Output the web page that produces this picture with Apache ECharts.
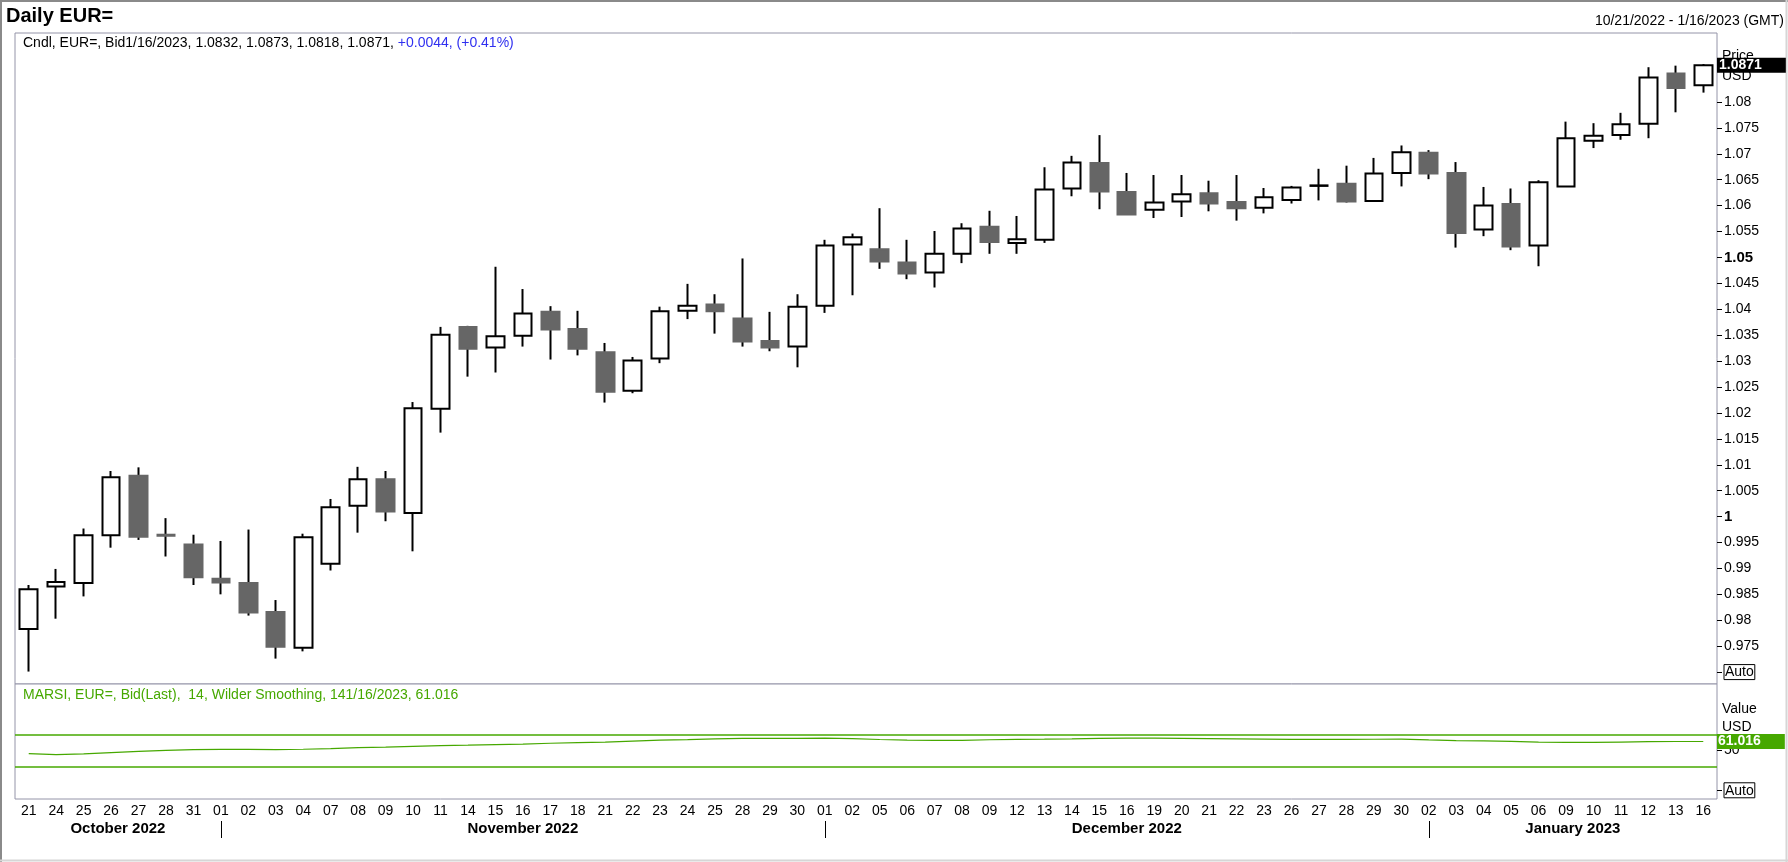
<!DOCTYPE html>
<html>
<head>
<meta charset="utf-8">
<script src="https://cdn.jsdelivr.net/npm/echarts@6/dist/echarts.min.js"></script>
<style>
  html, body { margin: 0; padding: 0; background: #fff; }
  #chart { width: 1788px; height: 862px; }
</style>
</head>
<body>
<div id="chart"></div>
<script>
// daily EUR= bid candles, 21 Oct 2022 - 16 Jan 2023
const dates = [
  '2022-10-21', '2022-10-24', '2022-10-25', '2022-10-26', '2022-10-27', '2022-10-28', '2022-10-31',
  '2022-11-01', '2022-11-02', '2022-11-03', '2022-11-04', '2022-11-07', '2022-11-08', '2022-11-09',
  '2022-11-10', '2022-11-11', '2022-11-14', '2022-11-15', '2022-11-16', '2022-11-17', '2022-11-18',
  '2022-11-21', '2022-11-22', '2022-11-23', '2022-11-24', '2022-11-25', '2022-11-28', '2022-11-29',
  '2022-11-30', '2022-12-01', '2022-12-02', '2022-12-05', '2022-12-06', '2022-12-07', '2022-12-08',
  '2022-12-09', '2022-12-12', '2022-12-13', '2022-12-14', '2022-12-15', '2022-12-16', '2022-12-19',
  '2022-12-20', '2022-12-21', '2022-12-22', '2022-12-23', '2022-12-26', '2022-12-27', '2022-12-28',
  '2022-12-29', '2022-12-30', '2023-01-02', '2023-01-03', '2023-01-04', '2023-01-05', '2023-01-06',
  '2023-01-09', '2023-01-10', '2023-01-11', '2023-01-12', '2023-01-13', '2023-01-16'
];
const opens = [
  0.9783, 0.9865, 0.9872, 0.9964, 1.0079, 0.9965, 0.9946,
  0.9880, 0.9872, 0.9816, 0.9747, 0.9909, 1.0021, 1.0072,
  1.0007, 1.0208, 1.0366, 1.0326, 1.0349, 1.0395, 1.0362,
  1.0317, 1.0243, 1.0305, 1.0397, 1.0409, 1.0382, 1.0339,
  1.0328, 1.0407, 1.0525, 1.0516, 1.0490, 1.0471, 1.0507,
  1.0559, 1.0528, 1.0534, 1.0633, 1.0682, 1.0626, 1.0592,
  1.0608, 1.0624, 1.0607, 1.0596, 1.0611, 1.0638, 1.0642,
  1.0609, 1.0663, 1.0702, 1.0663, 1.0554, 1.0603, 1.0523,
  1.0637, 1.0725, 1.0736, 1.0758, 1.0855, 1.0832
];
const highs = [
  0.9868, 0.9899, 0.9977, 1.0088, 1.0095, 0.9997, 0.9965,
  0.9953, 0.9975, 0.9839, 0.9967, 1.0034, 1.0096, 1.0088,
  1.0221, 1.0366, 1.0368, 1.0482, 1.0439, 1.0406, 1.0397,
  1.0335, 1.0308, 1.0405, 1.0449, 1.0429, 1.0498, 1.0395,
  1.0429, 1.0534, 1.0546, 1.0595, 1.0534, 1.0551, 1.0566,
  1.0590, 1.0580, 1.0674, 1.0696, 1.0736, 1.0663, 1.0659,
  1.0659, 1.0648, 1.0659, 1.0634, 1.0638, 1.0671, 1.0677,
  1.0692, 1.0716, 1.0707, 1.0684, 1.0636, 1.0633, 1.0649,
  1.0762, 1.0759, 1.0779, 1.0867, 1.0870, 1.0873
];
const lows = [
  0.9701, 0.9803, 0.9846, 0.9940, 0.9955, 0.9923, 0.9868,
  0.9850, 0.9809, 0.9726, 0.9740, 0.9896, 0.9969, 0.9991,
  0.9933, 1.0162, 1.0270, 1.0278, 1.0328, 1.0303, 1.0311,
  1.0220, 1.0238, 1.0296, 1.0381, 1.0353, 1.0328, 1.0319,
  1.0288, 1.0393, 1.0427, 1.0478, 1.0458, 1.0442, 1.0489,
  1.0507, 1.0507, 1.0528, 1.0618, 1.0593, 1.0583, 1.0576,
  1.0578, 1.0589, 1.0571, 1.0585, 1.0604, 1.0610, 1.0606,
  1.0609, 1.0637, 1.0651, 1.0519, 1.0541, 1.0514, 1.0483,
  1.0637, 1.0711, 1.0727, 1.0730, 1.0780, 1.0818
];
const closes = [
  0.9860, 0.9874, 0.9964, 1.0076, 0.9961, 0.9963, 0.9883,
  0.9873, 0.9815, 0.9749, 0.9960, 1.0018, 1.0072, 1.0010,
  1.0209, 1.0351, 1.0324, 1.0348, 1.0392, 1.0361, 1.0324,
  1.0241, 1.0301, 1.0396, 1.0407, 1.0396, 1.0338, 1.0326,
  1.0405, 1.0523, 1.0539, 1.0492, 1.0469, 1.0507, 1.0556,
  1.0530, 1.0535, 1.0631, 1.0683, 1.0627, 1.0583, 1.0606,
  1.0622, 1.0604, 1.0595, 1.0616, 1.0635, 1.0639, 1.0608,
  1.0662, 1.0703, 1.0662, 1.0547, 1.0600, 1.0521, 1.0645,
  1.0730, 1.0735, 1.0757, 1.0847, 1.0827, 1.0871
];
// MARSI, 14, Wilder smoothing
const rsiPeriod = 14;
const rsi = [
  45.8, 44.6, 45.5, 47.2, 48.6, 49.9, 50.9,
  51.2, 51.1, 50.9, 51.3, 52.1, 53.3, 54.0,
  55.0, 55.9, 56.4, 57.2, 57.8, 58.8, 59.6,
  60.2, 61.5, 62.8, 63.4, 64.4, 64.8, 65.0,
  65.0, 65.1, 64.6, 63.5, 62.6, 62.3, 62.5,
  63.2, 63.6, 63.9, 64.3, 65.0, 65.3, 65.2,
  65.0, 64.6, 64.2, 63.9, 63.7, 63.7, 63.6,
  63.8, 63.9, 63.0, 62.2, 61.8, 61.1, 60.2,
  59.9, 59.9, 60.3, 60.8, 61.0, 61.016
];
const rsiBands = [70, 30];
const priceTicks = [0.975, 0.98, 0.985, 0.99, 0.995, 1, 1.005, 1.01, 1.015, 1.02, 1.025, 1.03,
  1.035, 1.04, 1.045, 1.05, 1.055, 1.06, 1.065, 1.07, 1.075, 1.08];
const boldTicks = [1, 1.05];
const priceAutoTick = 0.97;
const rsiTicks = [0, 50];
const monthNames = ['January', 'February', 'March', 'April', 'May', 'June', 'July',
  'August', 'September', 'October', 'November', 'December'];

const FONT = 'Liberation Sans';
const FRAME = '#9494a8';
const GREEN = '#46a800';
const CLEAR = 'rgba(0,0,0,0)';
const PANE_LEFT = 15;
const PANE_WIDTH = 1702;
const n = dates.length;

const candleData = dates.map((d, i) => [opens[i], closes[i], lows[i], highs[i]]);
const bodyData = dates.map((d, i) => [opens[i], closes[i],
  Math.min(opens[i], closes[i]), Math.max(opens[i], closes[i])]);

// months: start index of each, label centred between the separators
const months = [];
dates.forEach((d, i) => {
  const key = d.slice(0, 7);
  if (!months.length || months[months.length - 1].key !== key) months.push({ key, idx: i });
});
const monthMid = months.map((m, k) => {
  const a = k === 0 ? -0.5 : m.idx;
  const b = k < months.length - 1 ? months[k + 1].idx : n - 0.5;
  return (a + b) / 2;
});
const monthText = {};
monthMid.forEach((p, k) => {
  const key = months[k].key;
  monthText[p] = monthNames[+key.slice(5, 7) - 1] + ' ' + key.slice(0, 4);
});
const monthSeps = months.slice(1).map(m => m.idx);

const last = n - 1;
const fmtDate = d => (+d.slice(5, 7)) + '/' + (+d.slice(8, 10)) + '/' + d.slice(0, 4);
const chg = closes[last] - closes[last - 1];
const chgPct = chg / closes[last - 1] * 100;
const sign = v => (v >= 0 ? '+' : '');
const candleLegend = '{k|Cndl, EUR=, Bid' + fmtDate(dates[last]) + ', ' +
  [opens[last], highs[last], lows[last], closes[last]].map(v => v.toFixed(4)).join(', ') + ', }' +
  '{u|' + sign(chg) + chg.toFixed(4) + ', (' + sign(chgPct) + chgPct.toFixed(2) + '%)}';
const rsiLegend = 'MARSI, EUR=, Bid(Last),  ' + rsiPeriod + ', Wilder Smoothing, ' + rsiPeriod +
  fmtDate(dates[last]) + ', ' + rsi[last].toFixed(3);

const chart = echarts.init(document.getElementById('chart'));

const autoBox = { fontFamily: FONT, fontSize: 14, color: '#000', borderColor: '#000',
  borderWidth: 1, padding: [1, 1, 0, 1] };

const option = {
  animation: false,
  backgroundColor: '#fff',
  textStyle: { fontFamily: FONT },
  title: [
    { text: 'Daily EUR=', left: 6, top: 6, padding: 0,
      textStyle: { fontFamily: FONT, fontSize: 20, fontWeight: 'bold', color: '#000' } },
    { text: fmtDate(dates[0]) + ' - ' + fmtDate(dates[last]) + ' (GMT)',
      right: 4, top: 14, padding: 0,
      textStyle: { fontFamily: FONT, fontSize: 14, fontWeight: 'normal', color: '#000' } },
    { text: candleLegend, left: 23, top: 36, padding: 0,
      textStyle: { fontFamily: FONT, fontSize: 14, fontWeight: 'normal',
        rich: {
          k: { fontFamily: FONT, fontSize: 14, color: '#000' },
          u: { fontFamily: FONT, fontSize: 14, color: '#2f2ff0' }
        } } },
    { text: rsiLegend, left: 23, top: 688, padding: 0,
      textStyle: { fontFamily: FONT, fontSize: 14, fontWeight: 'normal', color: GREEN } }
  ],
  grid: [
    { left: PANE_LEFT, top: 33, width: PANE_WIDTH, height: 651, show: true,
      borderColor: FRAME, borderWidth: 1, backgroundColor: '#fff' },
    { left: PANE_LEFT, top: 684, width: PANE_WIDTH, height: 115, show: true,
      borderColor: FRAME, borderWidth: 1, backgroundColor: '#fff' }
  ],
  xAxis: [
    { gridIndex: 0, type: 'category', data: dates, boundaryGap: true,
      axisLine: { show: false, onZero: false }, axisTick: { show: false }, axisLabel: { show: false },
      splitLine: { show: false } },
    { gridIndex: 1, type: 'category', data: dates, boundaryGap: true,
      axisLine: { show: false, onZero: false }, axisTick: { show: false }, splitLine: { show: false },
      axisLabel: { interval: 0, margin: 5, fontSize: 14, color: '#000', fontFamily: FONT,
        formatter: v => v.slice(8, 10) } },
    { gridIndex: 1, type: 'value', position: 'bottom', offset: 22,
      min: -0.5, max: n - 0.5,
      axisLine: { show: false, onZero: false }, splitLine: { show: false },
      axisTick: { show: true, customValues: monthSeps, length: 17, inside: false,
        lineStyle: { color: '#000', width: 1 } },
      axisLabel: { customValues: monthMid, margin: 0, fontSize: 15, fontWeight: 'bold',
        color: '#000', fontFamily: FONT, formatter: v => monthText[v] || '' } }
  ],
  yAxis: [
    { gridIndex: 0, type: 'value', position: 'right', min: 0.9677, max: 1.0933,
      axisLine: { show: false, onZero: false }, splitLine: { show: false },
      axisTick: { show: true, customValues: [priceAutoTick].concat(priceTicks), length: 5,
        lineStyle: { color: '#000', width: 1 } },
      axisLabel: { customValues: [priceAutoTick].concat(priceTicks), margin: 7, fontSize: 14,
        color: '#000', fontFamily: FONT,
        formatter: v => {
          if (Math.abs(v - priceAutoTick) < 1e-9) return '{a|Auto}';
          const s = String(+v.toFixed(3));
          return boldTicks.some(b => Math.abs(b - v) < 1e-9) ? '{b|' + s + '}' : s;
        },
        rich: {
          b: { fontFamily: FONT, fontSize: 15, fontWeight: 'bold', color: '#000' },
          a: autoBox
        } } },
    { gridIndex: 1, type: 'value', position: 'right', min: -10.9, max: 132.9,
      axisLine: { show: false, onZero: false }, splitLine: { show: false },
      axisTick: { show: true, customValues: rsiTicks, length: 5,
        lineStyle: { color: '#000', width: 1 } },
      axisLabel: { customValues: rsiTicks, margin: 7, fontSize: 14, color: '#000', fontFamily: FONT,
        formatter: v => (v === 0 ? '{a|Auto}' : String(v)),
        rich: { a: autoBox } } }
  ],
  series: [
    // wicks, all black
    { type: 'candlestick', name: 'wick', xAxisIndex: 0, yAxisIndex: 0, data: candleData,
      barWidth: 1, z: 2, silent: true,
      itemStyle: { color: '#000', color0: '#000', borderColor: '#000', borderColor0: '#000',
        borderWidth: 2 } },
    // bodies
    { type: 'candlestick', name: 'Cndl', xAxisIndex: 0, yAxisIndex: 0, data: bodyData,
      barWidth: '66%', z: 3, silent: true,
      itemStyle: { color: '#fff', color0: '#666666', borderColor: '#000', borderColor0: '#666666',
        borderWidth: 2 } },
    { type: 'line', name: 'MARSI', xAxisIndex: 1, yAxisIndex: 1, data: rsi,
      showSymbol: false, symbol: 'none', silent: true,
      lineStyle: { color: GREEN, width: 1.2 },
      markLine: {
        silent: true, symbol: ['none', 'none'], animation: false,
        data: rsiBands.map(b => ({ yAxis: b, lineStyle: { color: GREEN, width: 1.5, type: 'solid' },
          label: { show: false } })).concat([{
            yAxis: rsi[last], lineStyle: { color: CLEAR, width: 1 },
            label: { show: true, position: 'end', distance: 0, formatter: rsi[last].toFixed(3),
              backgroundColor: GREEN, color: '#fff', fontWeight: 'bold', fontSize: 14,
              fontFamily: FONT, padding: [1, 24, 0, 1] } }])
      } }
  ],
  graphic: [
    { type: 'text', left: 1722, top: 49, z: 0, style: { text: 'Price', fontSize: 14, fontFamily: FONT, fill: '#000' } },
    { type: 'text', left: 1722, top: 69, z: 0, style: { text: 'USD', fontSize: 14, fontFamily: FONT, fill: '#000' } },
    { type: 'text', left: 1722, top: 702, z: 0, style: { text: 'Value', fontSize: 14, fontFamily: FONT, fill: '#000' } },
    { type: 'text', left: 1722, top: 720, z: 0, style: { text: 'USD', fontSize: 14, fontFamily: FONT, fill: '#000' } },
    // outer frame
    { type: 'line', shape: { x1: 0, y1: 1, x2: 1788, y2: 1 }, style: { stroke: '#8a8a8a', lineWidth: 2 } },
    { type: 'line', shape: { x1: 1, y1: 0, x2: 1, y2: 862 }, style: { stroke: '#8a8a8a', lineWidth: 2 } },
    { type: 'line', shape: { x1: 0, y1: 860.5, x2: 1788, y2: 860.5 }, style: { stroke: '#d6d6d6', lineWidth: 2 } },
    { type: 'line', shape: { x1: 1786.5, y1: 0, x2: 1786.5, y2: 862 }, style: { stroke: '#d6d6d6', lineWidth: 2 } }
  ]
};

chart.setOption(option);

// last close box on the price axis, placed through the price scale
const lastY = chart.convertToPixel({ yAxisIndex: 0 }, closes[last]);
chart.setOption({
  graphic: [{
    id: 'lastClose', type: 'text', x: PANE_LEFT + PANE_WIDTH, y: lastY, z: 10,
    style: {
      text: closes[last].toFixed(4), fill: '#fff', backgroundColor: '#000',
      fontFamily: FONT, fontSize: 14, fontWeight: 'bold',
      padding: [1, 24, 0, 2], verticalAlign: 'middle', align: 'left'
    }
  }]
});
</script>
</body>
</html>
